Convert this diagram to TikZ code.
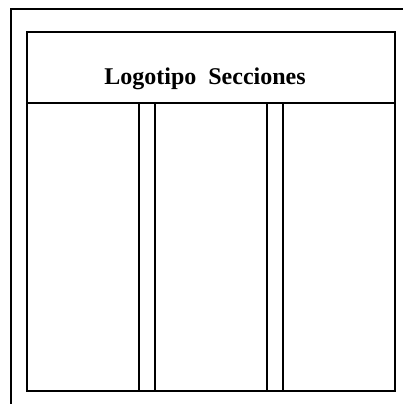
\documentclass[tikz,border=0pt]{standalone}
\usepackage{fontspec}
\setmainfont{Liberation Serif}
\usetikzlibrary{positioning}
\begin{document}
\begin{tikzpicture}[
    x=1pt, y=-1pt,
    box/.style={rectangle, draw, line width=1.8pt, inner sep=0pt, outer sep=0pt, minimum height=288pt},
    column/.style={box, minimum width=112pt},
    gutter/.style={box, minimum width=16pt},
    frame/.style={line width=1.8pt},
    ]
  \useasboundingbox (0,0) rectangle (403,404);
  \coordinate (frametop) at (403,9);
  \coordinate (framecorner) at (11,9);
  \coordinate (framebottom) at (11,404);
  \draw [frame] (frametop) -- (framecorner) -- (framebottom);
  \node [column, anchor=north west] (left) at (27,103) {};
  \node [gutter, right=0pt of left] (gapa) {};
  \node [column, right=0pt of gapa] (middle) {};
  \node [gutter, right=0pt of middle] (gapb) {};
  \node [column, right=0pt of gapb] (right) {};
  \node [box, minimum width=368pt, minimum height=71pt, anchor=south west] (header) at (left.north west) {};
  \node [font=\bfseries\fontsize{24}{28}\selectfont] (title) at (205,79) {Logotipo\ \ Secciones};
\end{tikzpicture}
\end{document}
